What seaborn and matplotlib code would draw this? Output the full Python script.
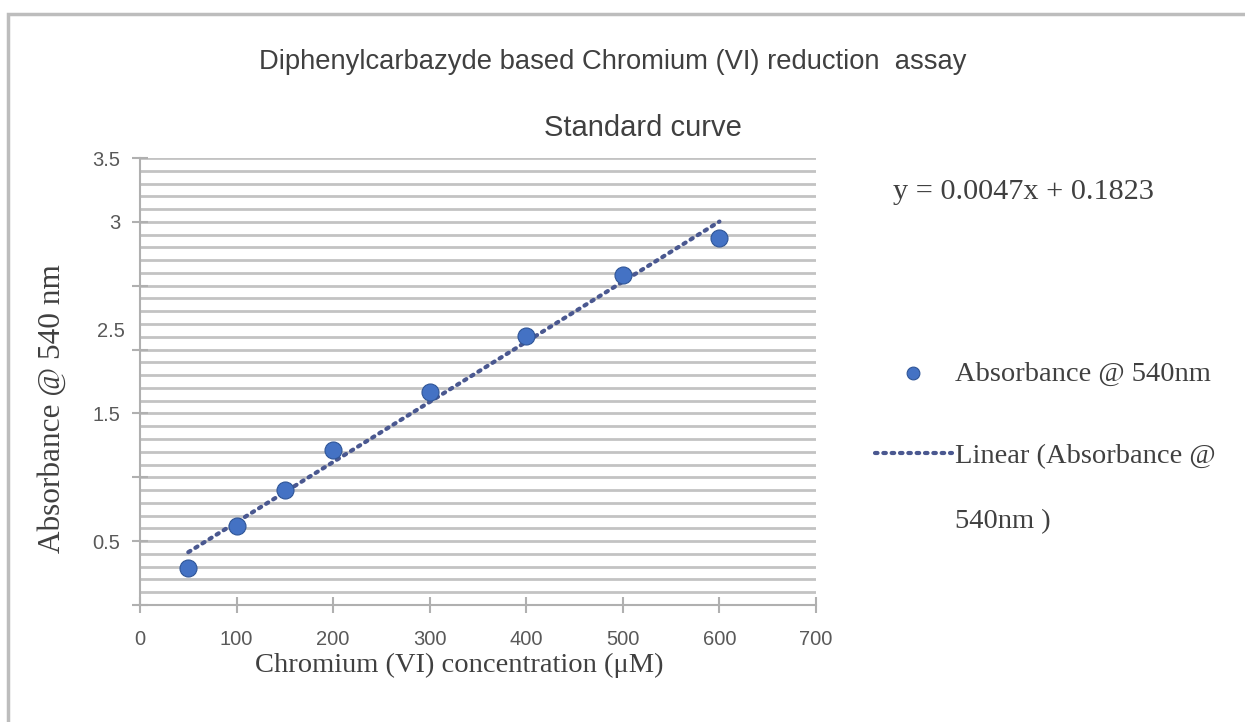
import numpy as np
import pandas as pd
import matplotlib
matplotlib.use("Agg")
import matplotlib.pyplot as plt
from matplotlib.ticker import MultipleLocator, FixedLocator, FixedFormatter
from matplotlib.patches import Rectangle
import seaborn as sns

# standard curve readings
concentration = [50, 100, 150, 200, 300, 400, 500, 600]
absorbance = [0.29, 0.62, 0.90, 1.21, 1.67, 2.11, 2.58, 2.87]
equation = "y = 0.0047x + 0.1823"

# y tick labels as printed on the original chart
ytick_pos = [0, 0.5, 1.0, 1.5, 2.0, 2.5, 3.0, 3.5]
ytick_txt = ["", "0.5", "", "1.5", "", "", "3", "3.5"]
stray_label = "2.5"
stray_label_y = 2.14

df = pd.DataFrame({"conc": concentration, "abs": absorbance})

sns.set_theme(style="white")
sans = ["Liberation Sans", "DejaVu Sans"]
serif = ["Liberation Serif", "DejaVu Serif"]
grey_txt = "#595959"
dark_txt = "#404040"
grid_col = "#c3c3c3"

fig = plt.figure(figsize=(12.45, 7.22), dpi=100)
ax = fig.add_axes([140 / 1245, 1 - 605 / 722, 676 / 1245, 447 / 722])

# outer chart frame
fig.patches.append(Rectangle((8 / 1245, -0.1), 1.2, 1 - 14 / 722 + 0.1,
                             transform=fig.transFigure, fill=False,
                             edgecolor="#bdbdbd", linewidth=2.5))

sns.regplot(data=df, x="conc", y="abs", ax=ax, scatter=False, ci=None,
            line_kws=dict(color="#4a5890", linestyle=(0, (0.6, 1.4)),
                          linewidth=3, dash_capstyle="round"),
            label="Linear (Absorbance @")
sns.scatterplot(data=df, x="conc", y="abs", ax=ax, s=150, color="#4472c4",
                edgecolor="#2f5597", linewidth=0.8, zorder=5,
                label="Absorbance @ 540nm")

ax.set_xlim(0, 700)
ax.set_ylim(0, 3.5)
ax.xaxis.set_major_locator(MultipleLocator(100))
ax.yaxis.set_major_locator(FixedLocator(ytick_pos))
ax.yaxis.set_major_formatter(FixedFormatter(ytick_txt))
ax.yaxis.set_minor_locator(MultipleLocator(0.1))
ax.grid(True, which="minor", axis="y", color=grid_col, linewidth=2)
ax.grid(True, which="major", axis="y", color=grid_col, linewidth=2)
ax.set_axisbelow(True)

for side in ["top", "right"]:
    ax.spines[side].set_visible(False)
for side in ["left", "bottom"]:
    ax.spines[side].set_color("#b0b0b0")
    ax.spines[side].set_linewidth(1.5)

ax.tick_params(axis="both", which="major", direction="inout", length=12,
               width=1.5, color="#b0b0b0", labelcolor=grey_txt, labelsize=14.5,
               bottom=True, left=True)
ax.tick_params(axis="y", which="minor", length=0, left=False)
ax.tick_params(axis="x", pad=12)
ax.tick_params(axis="y", pad=8)
for lab in ax.get_xticklabels() + ax.get_yticklabels():
    lab.set_family(sans)
ax.text(-0.022, stray_label_y, stray_label, transform=ax.get_yaxis_transform(),
        ha="right", va="center", fontsize=14.5, color=grey_txt, family=sans)

ax.set_xlabel("Chromium (VI) concentration (μM)", family=serif, fontsize=20.5,
              color=dark_txt)
ax.xaxis.set_label_coords(0.472, -0.108)
ax.set_ylabel("Absorbance @ 540 nm", family=serif, fontsize=22.5,
              color=dark_txt)
ax.yaxis.set_label_coords(-0.108, 0.44)

fig.text(613 / 1245, 1 - 62 / 722, "Diphenylcarbazyde based Chromium (VI) reduction  assay",
         ha="center", va="center", fontsize=19.7, color=dark_txt, family=sans)
fig.text(643 / 1245, 1 - 128 / 722, "Standard curve",
         ha="center", va="center", fontsize=21, color=dark_txt, family=sans)
fig.text(893 / 1245, 1 - 192 / 722, equation, ha="left", va="center",
         fontsize=21.8, color=dark_txt, family=serif)

handles, labels = ax.get_legend_handles_labels()
order = [labels.index("Absorbance @ 540nm"), labels.index("Linear (Absorbance @")]
leg = ax.legend([handles[i] for i in order], [labels[i] for i in order],
                loc="upper left", bbox_to_anchor=(875 / 1245, 1 - 361 / 722),
                bbox_transform=fig.transFigure, frameon=False,
                prop=dict(family=serif, size=20.5), labelcolor=dark_txt,
                handlelength=2.7, handletextpad=0.1, labelspacing=1.97,
                borderpad=0, borderaxespad=0, markerscale=0.75)
# wrapped end of the second legend label
fig.text(955 / 1245, 1 - 522 / 722, "540nm )", ha="left", va="center",
         fontsize=20.5, color=dark_txt, family=serif)

fig.savefig("out.png", dpi=100, facecolor="white")
